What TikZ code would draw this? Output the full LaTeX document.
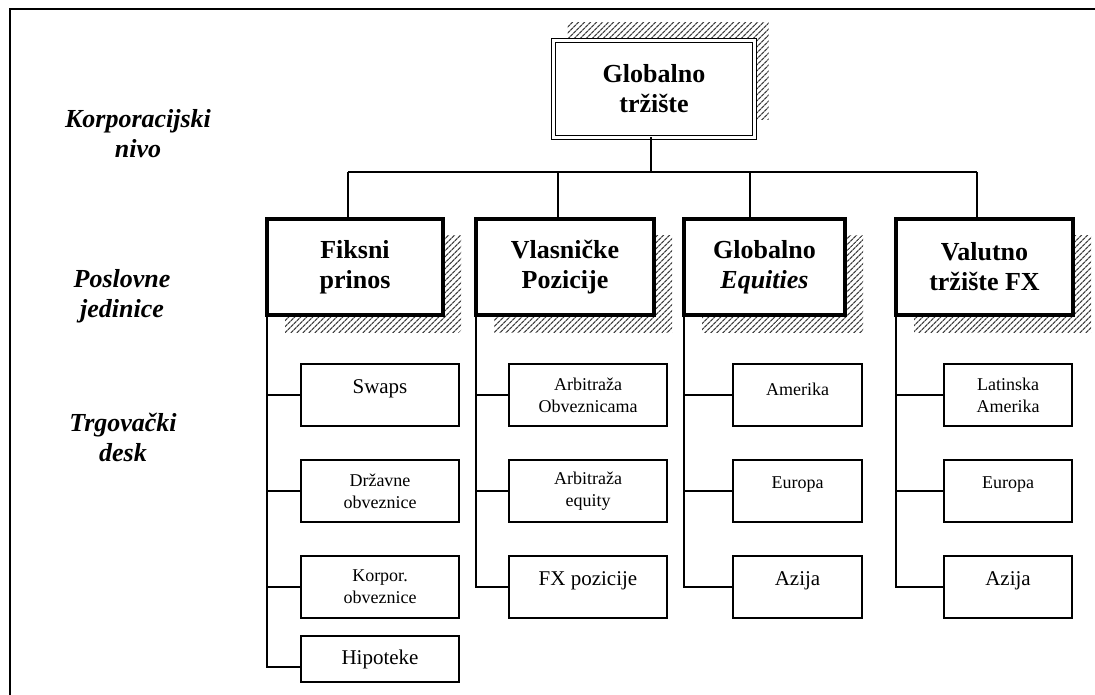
\documentclass[tikz,border=0pt]{standalone}
\usepackage{fontspec}
\setmainfont{Liberation Serif}
\usetikzlibrary{patterns.meta,backgrounds}
\newcommand\upby[1]{\raisebox{6pt}[\height][\depth]{#1}}
\begin{document}
\begin{tikzpicture}[x=1pt,y=-1pt,
 big/.style={font=\fontsize{26}{30}\selectfont\bfseries, align=center},
 topbox/.style={big, draw, fill=white, line width=1.6pt, double=white, double distance=2.4pt, minimum width=201pt, minimum height=97pt, inner sep=0pt, outer sep=0pt},
 unit/.style={big, draw, fill=white, line width=4pt, minimum height=96pt, inner sep=0pt, outer sep=0pt},
 desk/.style={draw, fill=white, line width=1.3pt, minimum height=62pt, inner sep=0pt, outer sep=0pt, align=center, font=\fontsize{18}{22}\selectfont},
 deskL/.style={desk, font=\fontsize{21}{25}\selectfont},
 level/.style={font=\fontsize{26}{30}\selectfont\bfseries\itshape, align=center},
 link/.style={line width=1.4pt},
 frame/.style={line width=2pt},
 hatch/.style={pattern={Lines[angle=45,distance=4pt,line width=1.3pt]}, pattern color=black!75}
]
\useasboundingbox (0,0) rectangle (1095,695);
\coordinate (fa) at (10,700);
\coordinate (fb) at (10,9);
\coordinate (fc) at (1100,9);
\draw[frame] (fa) -- (fb) -- (fc);

% level labels
\node[level] (kn) at (138,134) {Korporacijski\\nivo};
\node[level] (pj) at (122,296) {Poslovne\\jedinice};
\node[level] (td) at (123,437) {Trgovački\\desk};

% top
\node[topbox] (g) at (654,89) {Globalno\\tržište};

% business units
\node[unit, minimum width=176pt] (f) at (355,267) {Fiksni\\prinos};
\node[unit, minimum width=178pt] (v) at (565,267) {Vlasničke\\Pozicije};
\node[unit, minimum width=161pt] (e) at (764.5,267) {Globalno\\\textit{Equities}};
\node[unit, minimum width=177pt] (x) at (984.5,267) {Valutno\\tržište FX};

% shadows
\begin{scope}[on background layer]
\fill[hatch] ([xshift=14pt,yshift=18pt]g.north west) rectangle ([xshift=14pt,yshift=18pt]g.south east);
\foreach \n in {f,v,e,x}
  \fill[hatch] ([xshift=18pt,yshift=-17pt]\n.north west) rectangle ([xshift=18pt,yshift=-17pt]\n.south east);
\end{scope}

% desks: Fiksni
\node[deskL, minimum width=158pt] (f1) at (380,395) {\upby{Swaps}};
\node[desk, minimum width=158pt] (f2) at (380,491) {Državne\\obveznice};
\node[desk, minimum width=158pt] (f3) at (380,587) {Korpor.\\obveznice};
\node[deskL, minimum width=158pt, minimum height=46pt] (f4) at (380,659) {Hipoteke};
% Vlasnicke
\node[desk, minimum width=158pt] (v1) at (588,395) {Arbitraža\\Obveznicama};
\node[desk, minimum width=158pt] (v2) at (588,491) {Arbitraža\\equity};
\node[deskL, minimum width=158pt] (v3) at (588,587) {\upby{FX pozicije}};
% Equities
\node[desk, minimum width=129pt] (e1) at (797.5,395) {\upby{Amerika}};
\node[desk, minimum width=129pt] (e2) at (797.5,491) {\upby{Europa}};
\node[deskL, minimum width=129pt] (e3) at (797.5,587) {\upby{Azija}};
% Valutno
\node[desk, minimum width=128pt] (x1) at (1008,395) {Latinska\\Amerika};
\node[desk, minimum width=128pt] (x2) at (1008,491) {\upby{Europa}};
\node[deskL, minimum width=128pt] (x3) at (1008,587) {\upby{Azija}};

% connectors top level
\coordinate (bus) at (654,172);
\draw[link] ([xshift=-3pt]g.south) -- ([xshift=-3pt]g.south |- bus);
\draw[link] ([xshift=-7pt]f.north |- bus) -- ([xshift=-7.5pt]x.north |- bus);
\draw[link] ([xshift=-7pt]f.north |- bus) -- ([xshift=-7pt]f.north);
\draw[link] ([xshift=-7pt]v.north |- bus) -- ([xshift=-7pt]v.north);
\draw[link] ([xshift=-14.5pt]e.north |- bus) -- ([xshift=-14.5pt]e.north);
\draw[link] ([xshift=-7.5pt]x.north |- bus) -- ([xshift=-7.5pt]x.north);

% connectors to desks
\foreach \p/\c in {f/f1,f/f2,f/f3,v/v1,v/v2,v/v3,e/e1,e/e2,e/e3,x/x1,x/x2,x/x3}
  \draw[link] (\p.south west) |- (\c.west);
\draw[link] (f.south west) |- ([yshift=-8pt]f4.west);
\end{tikzpicture}
\end{document}
